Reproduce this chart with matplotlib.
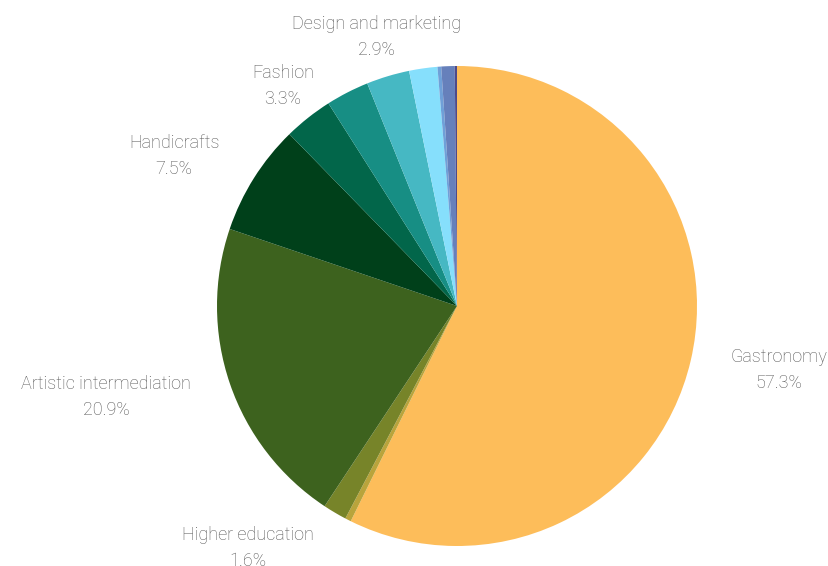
import matplotlib
matplotlib.use("Agg")
import matplotlib.pyplot as plt
import numpy as np

categories = ["Gastronomy", "Other 1", "Higher education", "Artistic intermediation",
              "Handicrafts", "Fashion", "Other 2", "Design and marketing",
              "Other 3", "Other 4", "Other 5", "Other 6"]
values = [57.3, 0.4, 1.6, 20.9, 7.5, 3.3, 2.9, 2.9, 1.9, 0.25, 0.9, 0.15]
pct_labels = ["57.3%", "", "1.6%", "20.9%", "7.5%", "3.3%", "", "2.9%", "", "", "", ""]
colors = ["#FDBD5A", "#B9A43C", "#778429", "#3D621E", "#00401A", "#02664A",
          "#178E84", "#46B8C3", "#86DFFC", "#6FA0D8", "#6680BB", "#4D4A8A"]
label_ha = ["left", None, "right", "right", "right", "center", None, "center",
            None, None, None, None]

plt.rcParams['font.family'] = ['Roboto', 'DejaVu Sans']

fig = plt.figure(figsize=(8.29, 5.66), dpi=100)
ax = fig.add_axes([0, 0, 1, 1])
wedges, _ = ax.pie(values, colors=colors, startangle=90, counterclock=False,
                   radius=1.0, wedgeprops=dict(linewidth=0))
ax.set_xlim(-457 / 240, (829 - 457) / 240)
ax.set_ylim(-(566 - 306) / 240, 306 / 240)
ax.set_aspect('equal')
ax.axis('off')

ld = 1.17
for w, cat, p, ha in zip(wedges, categories, pct_labels, label_ha):
    if not p:
        continue
    ang = np.deg2rad((w.theta1 + w.theta2) / 2)
    x, y = ld * np.cos(ang), ld * np.sin(ang)
    ax.text(x, y, f"{cat}\n{p}", ha=ha, va='center', multialignment='center',
            fontsize=13, color='#555555', fontweight='light', linespacing=1.55)

fig.savefig("out.png", dpi=100)
